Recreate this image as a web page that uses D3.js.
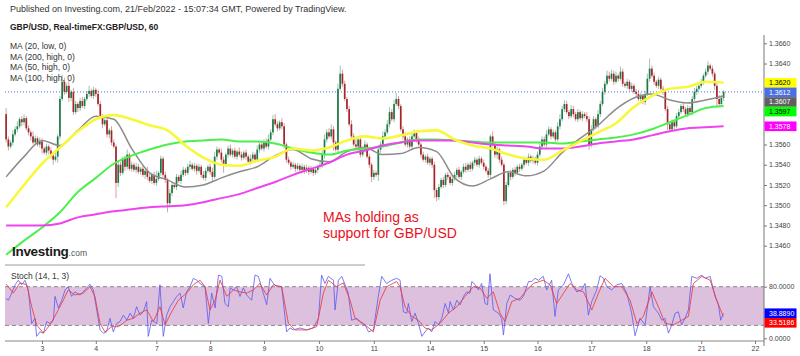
<!DOCTYPE html>
<html>
<head>
<meta charset="utf-8">
<script src="https://cdn.jsdelivr.net/npm/d3@7"></script>
<style>
  body { margin: 0; background: #fff; }
  svg { display: block; font-family: "Liberation Sans", Arial, sans-serif; }
</style>
</head>
<body>
<div id="chart"></div>
<script>
/* DATA (prices in pips above 1.3400 for candles) */
const firstBar = -16
const firstOpen = 190
const closes = [
  165,158,162,170,175, 178,185,182,186,176,172,168, 162,166,160,163,156,152,158,154,
  149,145,148, 168,205,222,212,218,206,212, 192,200,196,203,198, 205,210,213,208,214,210,
  200, 188,180,184,170,174,162,158, 122, 140,132,146,138,150,136,140, 135,138,133,136,130,134,
  128,124,130,122,126,132,146,130,125, 102, 112,120,118,128,124,130,135,132,
  138,140,136,139,134,138,130,127,134,138,133,128,
  148,155,152,145,140,150,156,150,154,148,153,150,147,152, 148,143,146,150,145,
  155,160,156,162,158,165, 172,185,180,176,182,178, 160,145,
  142,138,140,136,139,135,138,134,137,133,136,132,135,138,140, 150,165,172, 168,175,162,155,
  215,230, 220,205,195,180, 168,160, 158,165,150,155,160,148, 140,128,132,130,
  155,160,168,172, 180,192,185,200,205, 198,175, 168,160,165,158,168,172,165,160,
  150,145,148,142,146,140, 115,108,118, 125,120,130,128,122,126,
  130,135,128,133,138,135,140,136,142,145,140,146,142,138, 134,130, 168,160, 150,155,145,140,
  104, 120,132,128,135,132,138,136,140, 145,142,148,144,146,142,150,
  158,165,160,170,175,168,172,165,178,185, 195,200,192,188,195, 190,185,192,186,190,188,185,
  160, 175,185,178,190, 200,212,220,228,225, 230,222,228,225,232,220,218, 222,215,218,212,210,
  205,208,202,210, 225,235,228, 222,218,224,215,212, 195,180,175, 182,178,188,192,
  198,195,190,196,192, 205,212,215,218, 222,228,232,238,235,230, 218,205,200, 206,212
]
const wickUp = [
  6,3,2,4,3,5,2,3,4,2, 3,2,5,3,2,4,3,2,3,2, 3,2,4,2,3,7,4,3,5,2, 4,3,2,3,4,2,3,5,2,3,
  2,4,3,2,5,3,2,4,3,2, 4,3,2,3,5,2,3,2,4,3, 2,3,2,4,3,2,3,8,2,3, 2,3,2,4,3,2,3,2,4,3,
  2,3,4,2,3,2,3,2,4,3, 2,3,4,5,3,2,4,3,2,3, 4,2,3,2,4,3,2,3,2,4, 3,2,4,3,2,3,4,5,3,4,
  5,3,2,4,3,2,3,2,3,2, 3,2,3,2,3,2,3,2,3,2, 3,4,5,3,4,5,3,2,5,8, 4,3,2,3,4,3,5,3,4,3,
  4,2,3,2,3,2,4,3,5,3, 4,5,3,4,6,3,2,3,4,2, 3,4,3,2,3,2,3,2,3,2, 2,3,2,3,2,3,2,3,2,3,
  3,2,3,2,3,4,2,3,2,3, 2,3,2,3,2,3,2,5,3,4, 2,3,2,3,2,3,2,3,2,3, 2,3,2,3,2,3,2,3,4,3,
  3,4,3,2,3,2,4,5,3,4, 3,2,4,3,2,3,2,3,2,4, 3,4,3,2,4,3,4,3,5,4, 4,3,4,2,5,3,2,3,2,3,
  2,3,4,3,2,3,5,10,3,3, 2,3,2,3,2,3,2,3,2,3, 3,2,3,2,3,2,3,4,3,2, 3,2,3,4,2,3,2,3,4,3, 2
]
const wickDn = [
  3,4,2,3,2,3,2,4,3,2, 3,4,2,3,2,3,5,2,3,4, 3,5,2,6,3,2,3,2,4,3, 3,2,4,3,2,3,2,3,2,3,
  3,2,3,4,2,3,4,3,2,15, 4,3,2,4,3,2,3,2,3,2, 3,2,4,3,2,3,2,3,2,3, 2,3,9,4,3,2,3,2,3,2,
  3,2,3,2,3,4,2,3,2,3, 2,3,4,2,3,2,3,8,2,3, 2,3,2,3,2,3,2,3,2,3, 2,3,2,3,2,3,2,3,2,3,
  2,3,2,3,4,3,2,3,2,3, 2,3,2,3,2,3,2,3,2,3, 2,3,4,3,2,3,8,2,3,2, 3,2,3,2,3,2,3,4,3,2,
  3,2,3,5,3,2,6,3,2,3, 2,3,2,3,2,3,2,3,2,3, 2,3,2,3,2,3,2,3,2,3, 3,8,4,3,2,3,2,3,2,3,
  2,3,2,3,2,3,2,3,2,3, 2,3,2,3,2,3,3,2,3,4, 3,2,4,3,2,3,2,3,2,3, 2,3,2,3,2,3,2,3,2,3,
  2,3,2,3,2,3,2,3,2,3, 2,3,2,3,2,3,2,3,2,3, 5,3,2,3,2,3,2,3,2,3, 2,3,2,3,2,3,2,3,2,3,
  2,3,2,3,2,3,2,3,2,3, 2,3,2,3,2,6,3,2,3,2, 3,2,3,2,3,2,3,2,3,2, 2,3,2,3,2,3,4,8,3,2, 3
]

// moving averages, read every 8 bars
const maBars = [-16,-8,0,8,16,24,32,40,48,56,64,72,80,88,96,104,112,120,128,136,144,152,160,168,176,184,192,200,208,216,224,232,240,248,256,264,272,280,288,296,304]
const ma20Low = [1.3528,1.3548,1.3564,1.3559,1.3574,1.3588,1.3585,1.3556,1.3532,1.3525,1.3518,1.3520,1.3527,1.3533,1.3538,1.3549,1.3555,1.3546,1.3543,1.3553,1.3557,1.3550,1.3551,1.3557,1.3553,1.3527,1.3519,1.3526,1.3533,1.3529,1.3534,1.3552,1.3566,1.3579,1.3595,1.3606,1.3610,1.3604,1.3601,1.3604,1.3608]
const ma50High = [1.3498,1.3520,1.3541,1.3557,1.3573,1.3585,1.3589,1.3585,1.3579,1.3574,1.3559,1.3547,1.3540,1.3539,1.3544,1.3548,1.3556,1.3554,1.3557,1.3564,1.3568,1.3566,1.3569,1.3573,1.3574,1.3565,1.3559,1.3556,1.3550,1.3546,1.3545,1.3554,1.3563,1.3572,1.3581,1.3597,1.3608,1.3615,1.3617,1.3622,1.3621]
const ma100High = [1.3451,1.3465,1.3478,1.3493,1.3513,1.3527,1.3541,1.3549,1.3555,1.3560,1.3563,1.3564,1.3565,1.3563,1.3563,1.3561,1.3556,1.3552,1.3550,1.3554,1.3556,1.3558,1.3562,1.3565,1.3565,1.3564,1.3563,1.3562,1.3562,1.3562,1.3562,1.3561,1.3563,1.3565,1.3567,1.3570,1.3575,1.3582,1.3589,1.3596,1.3598]
const ma200High = [1.3480,1.3480,1.3480,1.3482,1.3488,1.3491,1.3494,1.3496,1.3498,1.3499,1.3500,1.3503,1.3507,1.3511,1.3517,1.3523,1.3530,1.3536,1.3542,1.3550,1.3554,1.3559,1.3562,1.3564,1.3564,1.3564,1.3562,1.3560,1.3559,1.3558,1.3556,1.3556,1.3558,1.3561,1.3563,1.3565,1.3569,1.3573,1.3576,1.3577,1.3578]

// stochastic %K and %D
const kBars = [-16,-15,-13.5,-12,-10.6,-9.1,-7.6,-6.1,-4.6,-3.1,-2.4,-0.9,0.6,2.1,3.6,5.1,5.8,7.3,8.8,10.3,11.7,13.2,14.7,17,19.2,21.4,22.9,24.4,25.9,27.4,28.8,30.3,31.8,33.3,34.8,36.3,37.8,39.3,40.7,42.2,43.7,45.2,46.7,47.4,48.9,51.2,52.6,54.1,55.6,57.1,58.6,60.1,61.6,63,64.5,66,67.5,69,70.5,72.7,74.2,75.7,77.2,78.7,80.2,81.6,83.1,83.9,85.4,86.8,88.3,89.8,91.3,93.5,95,96.5,98.7,100.2,101.7,103.2,104.7,106.9,109.1,110.6,112.1,115.1,118.1,121,123.3,124.7,126.2,127.7,130,130.7,132.2,133.7,135.2,136.6,138.1,140.4,142.6,144.1,145.6,147.8,150,151.5,153.7,156,158.2,
  159.7,161.2,162.7,163.4,164.9,166.4,167.9,169.4,170.8,172.3,173.8,175.3,176.8,178.3,179.8,181.3,182,183.5,185,186.5,188,189.4,190.9,191.7,193.2,194.6,196.1,197.6,198.7,199.8,201.3,203.6,205,205.8,207.3,208.8,211,213.2,214.7,217,218.4,219.9,221.4,223.6,225.1,227.3,228.8,230.3,232.6,234.8,236.3,238.5,240.7,242.2,243.7,245.2,247.4,248.9,250.4,251.9,254.1,256.3,258.6,260.8,263,264.5,266.7,269,271.2,272.7,274.9,276.4,277.9,279.4,280.9,282.4,283.8,285.3,286.8,288.3,289.8,292,294.3,295.7,298,300.2,301.7,302.7,303.9]
const kVals = [62,59,70,83,90,83,90,75,23,31,3,10,8,26,23,28,65,47,59,75,80,65,72,67,75,84,75,44,13,8,10,31,10,23,26,36,28,39,31,49,36,41,57,3,28,23,83,3,36,49,57,65,70,47,72,80,93,90,85,80,23,70,47,98,96,54,49,78,75,80,65,78,67,59,98,96,70,52,93,85,80,80,10,16,13,16,13,16,31,98,85,96,90,44,90,96,83,70,28,31,23,21,10,13,65,96,85,90,93,
  90,41,39,54,26,39,23,3,10,16,10,26,21,31,54,39,57,44,59,52,65,72,70,88,83,75,85,54,52,100,44,39,31,5,54,67,62,59,65,88,88,93,90,96,75,90,34,75,83,100,85,72,75,85,36,57,75,97,93,80,75,83,85,70,39,4,31,21,80,49,39,28,31,8,21,39,41,21,31,44,96,93,98,93,96,65,52,28,38.889]
const dBars = [-16,-12.8,-9.8,-6.8,-4.6,-2.4,0.6,3.6,6.5,9.5,11.7,14.7,18.4,21.4,23.6,25.9,28.1,31.1,34.1,37.8,40.7,43.7,46.7,49.7,52.6,54.9,57.8,60.8,64.5,67.5,70.5,72.7,74.9,77.2,79.4,82.4,85.4,88.3,91.3,94.3,97.2,100.2,103.2,106.9,109.9,112.9,118.1,122.5,125.5,127.7,131.4,134.4,137.4,139.6,143.3,147.8,150.8,153.7,158.2,
  159.7,161.9,164.9,167.9,170.8,173.8,177.5,181.3,185,188.7,192.4,195.4,198.4,201.3,204.3,206.5,209.5,213.2,216.2,219.2,223.6,226.6,229.6,232.6,235.5,238.5,241.5,245.2,248.2,251.1,254.9,258.6,262.3,265.3,268.2,272,274.9,277.9,281.6,285.3,288.3,290.5,294.3,298,300.9,303.9]
const dVals = [84,70,86,83,49,21,8,21,39,59,75,67,70,80,65,23,10,18,18,28,31,39,44,26,49,21,41,59,70,83,90,80,44,59,90,65,75,72,70,75,85,67,83,80,23,13,13,18,70,90,80,86,59,31,23,10,59,80,88,
  80,49,34,28,16,13,23,39,49,65,80,78,62,72,39,26,57,62,75,85,90,83,54,70,85,75,72,44,70,93,80,80,59,23,34,72,49,23,21,28,34,85,96,90,59,33.5186]

// axis labels
const priceTicks = [1.3460,1.3480,1.3500,1.3520,1.3540,1.3560,1.3580,1.3600,1.3620,1.3640,1.3660]
const dayLabels = ["3","4","7","8","9","10","11","14","15","16","17","18","21","22"]
const dayBars = [0,24,51,75,99,123.5,148,173,197,221,245,269.5,294,318]
const stochTicks = [0,80]
const legendItems = ["MA (20, low, 0)","MA (200, high, 0)","MA (50, high, 0)","MA (100, high, 0)"]
const lastPrice = 1.3612

/* LAYOUT */
const width = 800, height = 356
const pane = { left: 5, right: 764, top: 35, mid: 263, bottom: 341 }

const svg = d3.select("#chart").append("svg")
  .attr("width", width)
  .attr("height", height)

svg.append("rect").attr("width", width).attr("height", height).attr("fill", "#fff")

// SCALES
const x = d3.scaleLinear().domain([0, 318]).range([42, 755])
const y = d3.scaleLinear().domain([1.3460, 1.3660]).range([245.7, 43.3])
const ys = d3.scaleLinear().domain([0, 100]).range([338.3, 273.8])
const pip = v => 1.34 + v / 10000

// CLIPS
const defs = svg.append("defs")
defs.append("clipPath").attr("id", "clipPrice").append("rect")
  .attr("x", pane.left).attr("y", pane.top)
  .attr("width", pane.right - pane.left).attr("height", pane.mid - pane.top)
defs.append("clipPath").attr("id", "clipStoch").append("rect")
  .attr("x", pane.left).attr("y", pane.mid)
  .attr("width", pane.right - pane.left).attr("height", pane.bottom - pane.mid)

/* HEADER TEXT */
svg.append("text").attr("x", 10).attr("y", 12)
  .attr("font-size", 9).attr("fill", "#333")
  .text("Published on Investing.com, 21/Feb/2022 - 15:07:34 GMT, Powered by TradingView.")
svg.append("text").attr("x", 10).attr("y", 30)
  .attr("font-size", 8.5).attr("font-weight", "bold").attr("fill", "#222")
  .text("GBP/USD, Real-timeFX:GBP/USD, 60")

/* PRICE PANE */
const gp = svg.append("g").attr("clip-path", "url(#clipPrice)")

// current price line
gp.append("line")
  .attr("x1", pane.left).attr("x2", pane.right)
  .attr("y1", y(lastPrice)).attr("y2", y(lastPrice))
  .attr("stroke", "#4a6ef0").attr("stroke-width", 1).attr("stroke-dasharray", "1,2")

// candles
const bars = closes.map((c, k) => {
  const o = k ? closes[k - 1] : firstOpen
  return {
    i: firstBar + k, o, c,
    h: Math.max(o, c) + wickUp[k],
    l: Math.min(o, c) - wickDn[k]
  }
})
const colorOf = d => d.c >= d.o ? "#1d7a47" : "#a3272a"
const bodyW = 1.7

gp.selectAll(".wick")
  .data(bars)
  .join("line")
  .attr("class", "wick")
  .attr("x1", d => x(d.i)).attr("x2", d => x(d.i))
  .attr("y1", d => y(pip(d.h))).attr("y2", d => y(pip(d.l)))
  .attr("stroke", colorOf).attr("stroke-opacity", 0.55).attr("stroke-width", 0.8)

gp.selectAll(".body")
  .data(bars)
  .join("rect")
  .attr("class", "body")
  .attr("x", d => x(d.i) - bodyW / 2)
  .attr("width", bodyW)
  .attr("y", d => y(pip(Math.max(d.o, d.c))))
  .attr("height", d => Math.max(0.8, Math.abs(y(pip(d.o)) - y(pip(d.c)))))
  .attr("fill", colorOf)

// moving averages
const maLine = vals => d3.line()
  .x((d, k) => x(maBars[k]))
  .y(d => y(d))
  .curve(d3.curveMonotoneX)(vals)

const maDefs = [
  { vals: ma20Low, color: "#8c8c8c", w: 1.5 },
  { vals: ma100High, color: "#4cf04c", w: 2 },
  { vals: ma200High, color: "#ee44ee", w: 2 },
  { vals: ma50High, color: "#f8f83a", w: 2.6 }
]
gp.selectAll(".ma")
  .data(maDefs)
  .join("path")
  .attr("class", "ma")
  .attr("d", d => maLine(d.vals))
  .attr("fill", "none")
  .attr("stroke", d => d.color)
  .attr("stroke-width", d => d.w)

// legend
svg.selectAll(".legend")
  .data(legendItems)
  .join("text")
  .attr("class", "legend")
  .attr("x", 10).attr("y", (d, k) => 49 + k * 10.7)
  .attr("font-size", 8.5).attr("fill", "#333")
  .text(d => d)

// logo + separator
const logo = svg.append("text").attr("x", 12).attr("y", 256)
logo.append("tspan").attr("font-size", 13.5).attr("font-weight", "bold").attr("fill", "#1a1a1a")
  .attr("letter-spacing", -0.3).text("Investing")
logo.append("tspan").attr("font-size", 8.5).attr("fill", "#555").text(".com")
svg.append("line")
  .attr("x1", 5).attr("x2", 365).attr("y1", 265).attr("y2", 265)
  .attr("stroke", "#bdbdbd").attr("stroke-width", 1.5)

// annotation
svg.append("text").attr("x", 323).attr("y", 221.5)
  .attr("font-size", 14).attr("fill", "#e8121c").text("MAs holding as")
svg.append("text").attr("x", 323).attr("y", 238)
  .attr("font-size", 14).attr("fill", "#e8121c").text("support for GBP/USD")

/* STOCH PANE */
const gs = svg.append("g").attr("clip-path", "url(#clipStoch)")
gs.append("rect")
  .attr("x", pane.left).attr("width", pane.right - pane.left)
  .attr("y", ys(80)).attr("height", ys(20) - ys(80))
  .attr("fill", "#dcc0dd")
gs.selectAll(".band")
  .data([80, 20])
  .join("line")
  .attr("x1", pane.left).attr("x2", pane.right)
  .attr("y1", d => ys(d)).attr("y2", d => ys(d))
  .attr("stroke", "#8a8a8a").attr("stroke-dasharray", "4,3")

const stLine = (bs) => d3.line().x((d, k) => x(bs[k])).y(d => ys(d))
gs.append("path").attr("d", stLine(kBars)(kVals))
  .attr("fill", "none").attr("stroke", "#5a5af2").attr("stroke-opacity", 0.8).attr("stroke-width", 1)
gs.append("path").attr("d", stLine(dBars)(dVals))
  .attr("fill", "none").attr("stroke", "#f03a3a").attr("stroke-opacity", 0.85).attr("stroke-width", 1)

svg.append("text").attr("x", 11).attr("y", 279)
  .attr("font-size", 8.5).attr("fill", "#333").text("Stoch (14, 1, 3)")

/* AXES */
const badges = [
  { v: ma50High[ma50High.length - 1], text: "1.3620", bg: "#ffff00", fg: "#000" },
  { v: lastPrice, text: "1.3612", bg: "#4a6fe0", fg: "#fff" },
  { v: ma20Low[ma20Low.length - 1], text: "1.3607", bg: "#606060", fg: "#fff" },
  { v: ma100High[ma100High.length - 1], text: "1.3597", bg: "#00ff00", fg: "#000" },
  { v: ma200High[ma200High.length - 1], text: "1.3578", bg: "#ff00ff", fg: "#fff" }
]
const stochBadges = [
  { v: kVals[kVals.length - 1], text: "38.8890", bg: "#0000ff", fg: "#fff" },
  { v: dVals[dVals.length - 1], text: "33.5186", bg: "#ff0000", fg: "#fff" }
]
// stack badges so they don't overlap
const stack = (list, scale) => {
  let prev = -Infinity
  list.forEach(b => {
    b.y = Math.max(scale(b.v), prev + 9.6)
    prev = b.y
  })
}
stack(badges, y)
stack(stochBadges, ys)

const yAxis = d3.axisRight(y)
  .tickValues(priceTicks.filter(t => !badges.some(b => Math.abs(b.y - y(t)) < 6)))
  .tickFormat(d3.format(".4f"))
  .tickSize(3)
const yAxisGroup = svg.append("g")
  .attr("transform", `translate(${pane.right}, 0)`)
  .call(yAxis)

const sAxis = d3.axisRight(ys).tickValues(stochTicks).tickFormat(d3.format(".4f")).tickSize(3)
const sAxisGroup = svg.append("g")
  .attr("transform", `translate(${pane.right}, 0)`)
  .call(sAxis)

const xAxis = d3.axisBottom(x)
  .tickValues(dayBars)
  .tickFormat((d, k) => dayLabels[k])
  .tickSize(3)
const xAxisGroup = svg.append("g")
  .attr("transform", `translate(0, ${pane.bottom})`)
  .call(xAxis)

;[yAxisGroup, sAxisGroup, xAxisGroup].forEach(g => {
  g.select(".domain").remove()
  g.selectAll("line").attr("stroke", "#777")
  g.selectAll("text").attr("font-size", 7).attr("fill", "#444")
    .attr("font-family", '"Liberation Sans", Arial, sans-serif')
})
yAxisGroup.selectAll("text").attr("x", 5)
sAxisGroup.selectAll("text").attr("x", 5)
xAxisGroup.selectAll("text").attr("y", 5)

svg.append("line")
  .attr("x1", pane.right).attr("x2", pane.right).attr("y1", pane.top).attr("y2", 346)
  .attr("stroke", "#777")
svg.append("line")
  .attr("x1", pane.left).attr("x2", pane.right).attr("y1", pane.bottom).attr("y2", pane.bottom)
  .attr("stroke", "#888")

const badgeG = svg.selectAll(".badge")
  .data(badges.concat(stochBadges))
  .join("g")
  .attr("class", "badge")
  .attr("transform", d => `translate(${pane.right}, ${d.y})`)
badgeG.append("rect")
  .attr("x", 0.5).attr("y", -4.8).attr("width", 32).attr("height", 9.6)
  .attr("fill", d => d.bg)
badgeG.append("text")
  .attr("x", 5).attr("dy", "0.35em")
  .attr("font-size", 7).attr("fill", d => d.fg)
  .text(d => d.text)
</script>
</body>
</html>
